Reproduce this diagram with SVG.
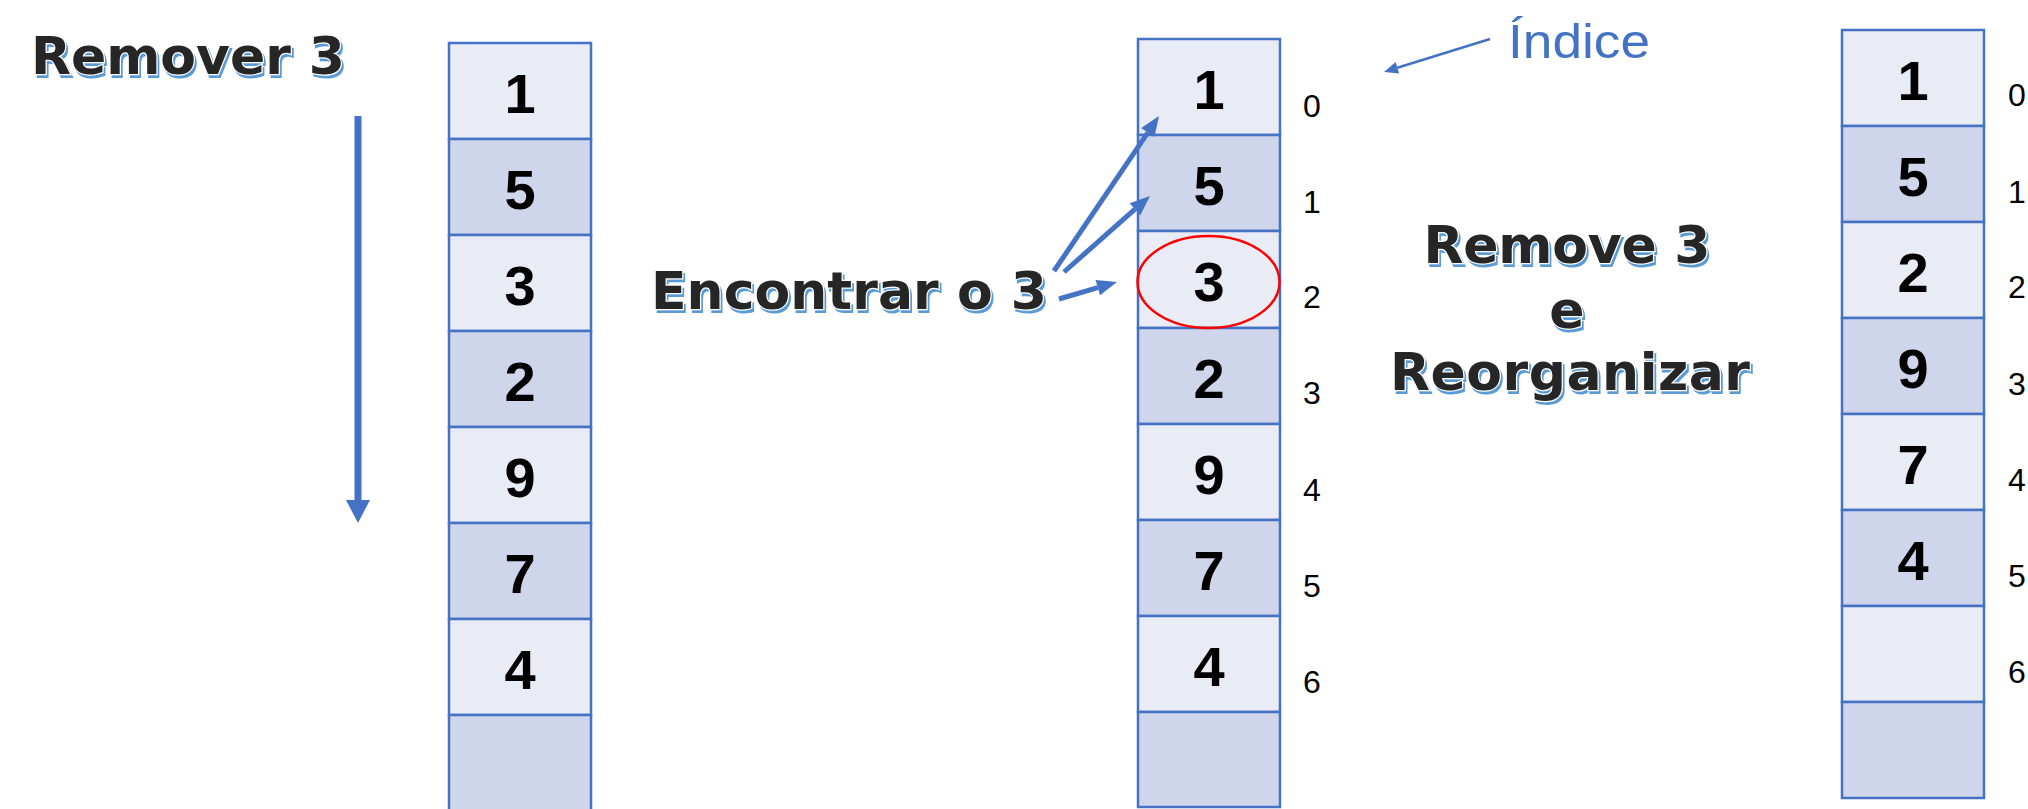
<svg xmlns="http://www.w3.org/2000/svg" width="2028" height="809" viewBox="0 0 2028 809">
<defs>
<style>
.lt{fill:#E9EBF5;stroke:#4472C4;stroke-width:2.5}
.dk{fill:#CFD5EA;stroke:#4472C4;stroke-width:2.5}
.v{font-family:"Liberation Sans",Arial,sans-serif;font-weight:bold;font-size:56px;fill:#000;text-anchor:middle}
.ix{font-family:"Liberation Sans",Arial,sans-serif;font-size:32px;fill:#000}
.sh{font-family:"DejaVu Sans",Verdana,sans-serif;font-weight:bold;font-size:52px;fill:#5B9BD5;stroke:#5B9BD5;stroke-width:2}
.wa{font-family:"DejaVu Sans",Verdana,sans-serif;font-weight:bold;font-size:52px;fill:#262626;stroke:#fff;stroke-width:2.5;paint-order:stroke}
.c{text-anchor:middle}
.ar{stroke:#4472C4;fill:none}
</style>
<marker id="mBig" markerUnits="userSpaceOnUse" markerWidth="23" markerHeight="24" refX="0" refY="12" orient="auto" overflow="visible"><path d="M0,0 L23,12 L0,24 z" fill="#4472C4"/></marker>
<marker id="mMid" markerUnits="userSpaceOnUse" markerWidth="20" markerHeight="16" refX="0" refY="8" orient="auto" overflow="visible"><path d="M0,0 L20,8 L0,16 z" fill="#4472C4"/></marker>
<marker id="mSm" markerUnits="userSpaceOnUse" markerWidth="14" markerHeight="12" refX="0" refY="6" orient="auto" overflow="visible"><path d="M0,0 L14,6 L0,12 z" fill="#4472C4"/></marker>
</defs>
<rect width="2028" height="809" fill="#fff"/>

<g id="title-remover">
<text class="sh" x="33" y="77" textLength="314" lengthAdjust="spacing">Remover 3</text>
<text class="wa" x="31" y="74" textLength="314" lengthAdjust="spacing">Remover 3</text>
</g>

<g id="array-original">
<rect class="lt" x="449" y="43" width="142" height="96"/>
<rect class="dk" x="449" y="139" width="142" height="96"/>
<rect class="lt" x="449" y="235" width="142" height="96"/>
<rect class="dk" x="449" y="331" width="142" height="96"/>
<rect class="lt" x="449" y="427" width="142" height="96"/>
<rect class="dk" x="449" y="523" width="142" height="96"/>
<rect class="lt" x="449" y="619" width="142" height="96"/>
<rect class="dk" x="449" y="715" width="142" height="110"/>
<text class="v" x="520" y="113">1</text>
<text class="v" x="520" y="209">5</text>
<text class="v" x="520" y="305">3</text>
<text class="v" x="520" y="401">2</text>
<text class="v" x="520" y="497">9</text>
<text class="v" x="520" y="593">7</text>
<text class="v" x="520" y="689">4</text>
</g>

<g id="label-encontrar">
<text class="sh" x="653" y="312" textLength="396" lengthAdjust="spacing">Encontrar o 3</text>
<text class="wa" x="651" y="309" textLength="396" lengthAdjust="spacing">Encontrar o 3</text>
</g>

<g id="array-search">
<rect class="lt" x="1138" y="39" width="142" height="96"/>
<rect class="dk" x="1138" y="135" width="142" height="96"/>
<rect class="lt" x="1138" y="231" width="142" height="97"/>
<rect class="dk" x="1138" y="328" width="142" height="96"/>
<rect class="lt" x="1138" y="424" width="142" height="96"/>
<rect class="dk" x="1138" y="520" width="142" height="96"/>
<rect class="lt" x="1138" y="616" width="142" height="96"/>
<rect class="dk" x="1138" y="712" width="142" height="95"/>
<text class="v" x="1209" y="109">1</text>
<text class="v" x="1209" y="205">5</text>
<text class="v" x="1209" y="301">3</text>
<text class="v" x="1209" y="398">2</text>
<text class="v" x="1209" y="494">9</text>
<text class="v" x="1209" y="590">7</text>
<text class="v" x="1209" y="686">4</text>
<ellipse cx="1208.5" cy="282" rx="71" ry="46" fill="none" stroke="#FF0000" stroke-width="2.5"/>
<text class="ix" x="1303" y="117">0</text>
<text class="ix" x="1303" y="213">1</text>
<text class="ix" x="1303" y="308">2</text>
<text class="ix" x="1303" y="404">3</text>
<text class="ix" x="1303" y="501">4</text>
<text class="ix" x="1303" y="597">5</text>
<text class="ix" x="1303" y="693">6</text>
</g>

<g id="label-indice">
<text x="1508" y="58" font-family="Liberation Sans, Arial, sans-serif" font-size="49" fill="#4472C4" textLength="142" lengthAdjust="spacingAndGlyphs">Índice</text>
</g>

<g id="label-remove">
<text class="sh c" x="1569" y="266" textLength="287" lengthAdjust="spacing">Remove 3</text>
<text class="wa c" x="1567" y="263" textLength="287" lengthAdjust="spacing">Remove 3</text>
<text class="sh c" x="1569" y="331">e</text>
<text class="wa c" x="1567" y="328">e</text>
<text class="sh c" x="1572" y="393" textLength="360" lengthAdjust="spacing">Reorganizar</text>
<text class="wa c" x="1570" y="390" textLength="360" lengthAdjust="spacing">Reorganizar</text>
</g>

<g id="array-result">
<rect class="lt" x="1842" y="30" width="142" height="96"/>
<rect class="dk" x="1842" y="126" width="142" height="96"/>
<rect class="lt" x="1842" y="222" width="142" height="96"/>
<rect class="dk" x="1842" y="318" width="142" height="96"/>
<rect class="lt" x="1842" y="414" width="142" height="96"/>
<rect class="dk" x="1842" y="510" width="142" height="96"/>
<rect class="lt" x="1842" y="606" width="142" height="96"/>
<rect class="dk" x="1842" y="702" width="142" height="96"/>
<text class="v" x="1913" y="100">1</text>
<text class="v" x="1913" y="196">5</text>
<text class="v" x="1913" y="292">2</text>
<text class="v" x="1913" y="388">9</text>
<text class="v" x="1913" y="484">7</text>
<text class="v" x="1913" y="580">4</text>
<text class="ix" x="2008" y="106">0</text>
<text class="ix" x="2008" y="203">1</text>
<text class="ix" x="2008" y="298">2</text>
<text class="ix" x="2008" y="395">3</text>
<text class="ix" x="2008" y="491">4</text>
<text class="ix" x="2008" y="587">5</text>
<text class="ix" x="2008" y="683">6</text>
</g>

<g id="connectors">
<line class="ar" x1="358" y1="116" x2="358" y2="500" stroke-width="7" marker-end="url(#mBig)"/>
<line class="ar" x1="1054" y1="271" x2="1147.8" y2="132.6" stroke-width="5" marker-end="url(#mMid)"/>
<line class="ar" x1="1064" y1="272" x2="1135" y2="209.2" stroke-width="5" marker-end="url(#mMid)"/>
<line class="ar" x1="1059" y1="299" x2="1097.8" y2="287.6" stroke-width="5" marker-end="url(#mMid)"/>
<line class="ar" x1="1490" y1="39" x2="1397.4" y2="67.8" stroke-width="2.5" marker-end="url(#mSm)"/>
</g>
</svg>
